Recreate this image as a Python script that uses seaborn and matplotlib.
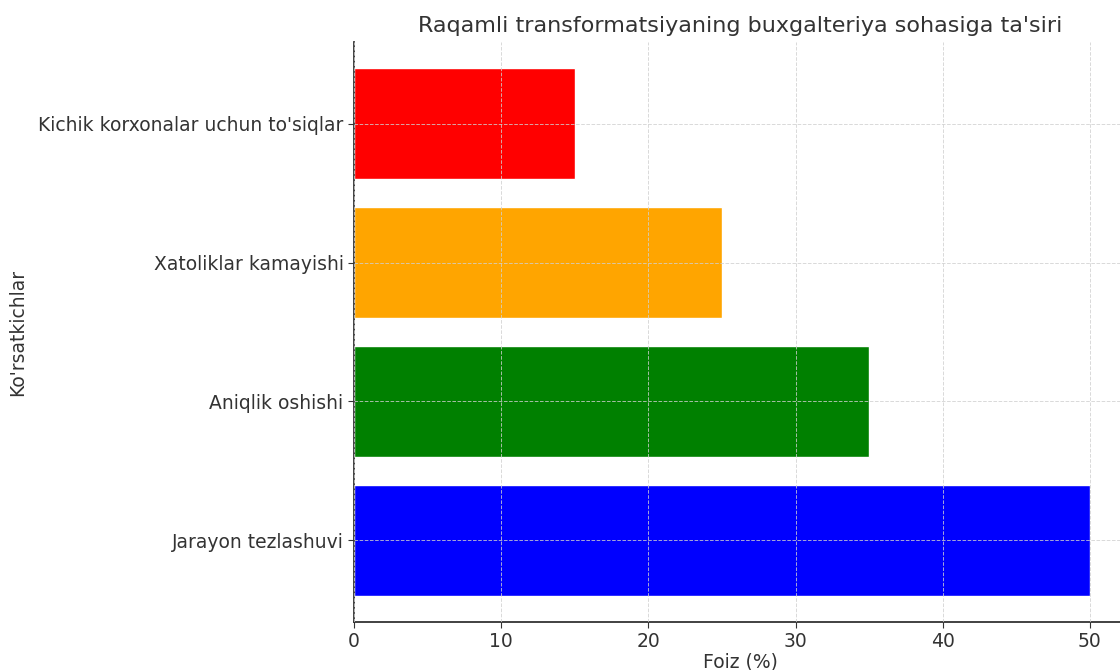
import matplotlib
matplotlib.use("Agg")
import matplotlib.pyplot as plt
import seaborn as sns
import pandas as pd

# Chart data
categories = ["Kichik korxonalar uchun to'siqlar", "Xatoliklar kamayishi",
              "Aniqlik oshishi", "Jarayon tezlashuvi"]
values = [15, 25, 35, 50]
colors = ["red", "orange", "green", "blue"]

title = "Raqamli transformatsiyaning buxgalteriya sohasiga ta'siri"
x_label = "Foiz (%)"
y_label = "Ko'rsatkichlar"

df = pd.DataFrame({"category": categories, "value": values})

sns.set_style("white")
plt.rcParams['font.family'] = ['DejaVu Sans']

fig = plt.figure(figsize=(11.2, 6.7), dpi=100)
ax = fig.add_axes([0.316, 0.0716, 0.69, 0.8656])

sns.barplot(data=df, x="value", y="category", hue="category",
            palette=dict(zip(categories, colors)), order=categories,
            orient="h", width=0.8, saturation=1, legend=False, ax=ax)

ax.set_xlim(0, 52.5)
ax.set_ylim(3.59, -0.59)
ax.set_title(title, fontsize=16, color="#333333", pad=7)
ax.set_xlabel(x_label, fontsize=13.5, color="#333333", labelpad=1)
ax.set_ylabel(y_label, fontsize=13.5, color="#333333", labelpad=8)
ax.tick_params(axis="both", labelsize=13.5, colors="#333333", length=4,
               left=True, bottom=True)
ax.grid(True, linestyle="--", color="#d0d0d0", linewidth=0.7, alpha=0.8)
ax.set_axisbelow(False)

for side in ["top", "right"]:
    ax.spines[side].set_visible(False)
for side in ["left", "bottom"]:
    ax.spines[side].set_color("#333333")
    ax.spines[side].set_linewidth(1.3)

fig.savefig("out.png", dpi=100)
plt.close(fig)
